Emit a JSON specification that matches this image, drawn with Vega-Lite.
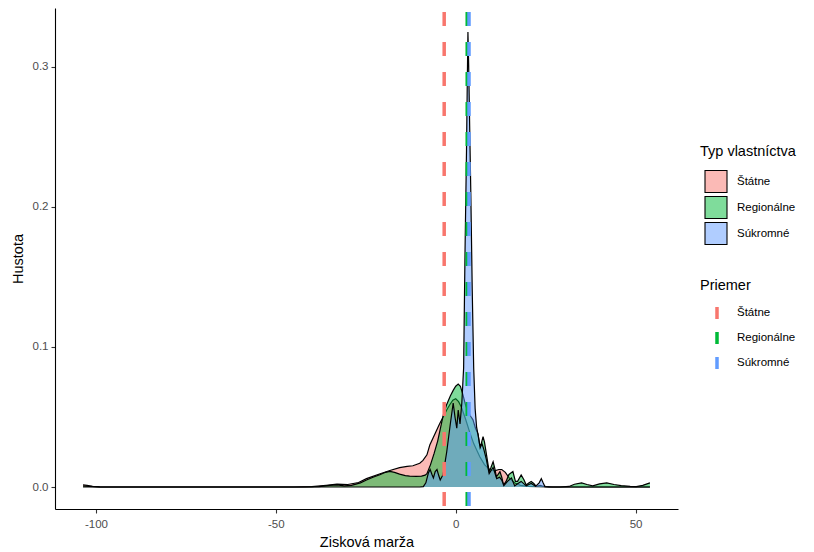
{
  "$schema": "https://vega.github.io/schema/vega-lite/v6.json",
  "width": 623,
  "height": 501,
  "autosize": {"type": "none"},
  "padding": {"left": 55, "top": 8, "right": 136, "bottom": 43},
  "background": "white",
  "config": {
    "view": {"stroke": null},
    "font": "Liberation Sans",
    "axis": {
      "grid": false,
      "domainColor": "black",
      "domainWidth": 1.1,
      "tickColor": "#333333",
      "tickWidth": 1.1,
      "tickSize": 4,
      "labelColor": "#4D4D4D",
      "labelFont": "Liberation Sans",
      "labelFontSize": 11.5,
      "labelPadding": 3,
      "titleFont": "Liberation Sans",
      "titleFontSize": 14.5,
      "titleFontWeight": "normal",
      "titleColor": "black"
    },
    "legend": {
      "labelFont": "Liberation Sans",
      "labelFontSize": 11.5,
      "labelColor": "black",
      "titleFont": "Liberation Sans",
      "titleFontSize": 14.5,
      "titleFontWeight": "normal",
      "titleColor": "black",
      "padding": 0
    }
  },
  "datasets": {
    "dens": [
      {"typ": "Štátne", "x": -103.6, "y": 0.0016},
      {"typ": "Štátne", "x": -102.5, "y": 0.0012},
      {"typ": "Štátne", "x": -101, "y": 0.0005},
      {"typ": "Štátne", "x": -99, "y": 0.0001},
      {"typ": "Štátne", "x": -95, "y": 0},
      {"typ": "Štátne", "x": -45, "y": 0},
      {"typ": "Štátne", "x": -40, "y": 0.0003},
      {"typ": "Štátne", "x": -36, "y": 0.0012},
      {"typ": "Štátne", "x": -33, "y": 0.002},
      {"typ": "Štátne", "x": -30, "y": 0.0018},
      {"typ": "Štátne", "x": -27, "y": 0.0032},
      {"typ": "Štátne", "x": -24.8, "y": 0.006},
      {"typ": "Štátne", "x": -21, "y": 0.0095},
      {"typ": "Štátne", "x": -18.3, "y": 0.0118},
      {"typ": "Štátne", "x": -15.6, "y": 0.0138},
      {"typ": "Štátne", "x": -13.5, "y": 0.0147},
      {"typ": "Štátne", "x": -11.9, "y": 0.0152},
      {"typ": "Štátne", "x": -10, "y": 0.017},
      {"typ": "Štátne", "x": -9.1, "y": 0.019},
      {"typ": "Štátne", "x": -8, "y": 0.023},
      {"typ": "Štátne", "x": -7.2, "y": 0.03},
      {"typ": "Štátne", "x": -6.3, "y": 0.035},
      {"typ": "Štátne", "x": -5.4, "y": 0.04},
      {"typ": "Štátne", "x": -4.5, "y": 0.045},
      {"typ": "Štátne", "x": -3.5, "y": 0.05},
      {"typ": "Štátne", "x": -2.5, "y": 0.055},
      {"typ": "Štátne", "x": -1.7, "y": 0.0586},
      {"typ": "Štátne", "x": -0.8, "y": 0.062},
      {"typ": "Štátne", "x": 0, "y": 0.063},
      {"typ": "Štátne", "x": 0.8, "y": 0.061},
      {"typ": "Štátne", "x": 1.6, "y": 0.057},
      {"typ": "Štátne", "x": 2.8, "y": 0.048},
      {"typ": "Štátne", "x": 3.9, "y": 0.039},
      {"typ": "Štátne", "x": 5, "y": 0.031},
      {"typ": "Štátne", "x": 6.7, "y": 0.0216},
      {"typ": "Štátne", "x": 8, "y": 0.016},
      {"typ": "Štátne", "x": 9.4, "y": 0.0125},
      {"typ": "Štátne", "x": 10.8, "y": 0.0115},
      {"typ": "Štátne", "x": 12, "y": 0.0125},
      {"typ": "Štátne", "x": 12.8, "y": 0.0125},
      {"typ": "Štátne", "x": 13.8, "y": 0.0105},
      {"typ": "Štátne", "x": 15, "y": 0.006},
      {"typ": "Štátne", "x": 16.5, "y": 0.0028},
      {"typ": "Štátne", "x": 18, "y": 0.0012},
      {"typ": "Štátne", "x": 20, "y": 0.0005},
      {"typ": "Štátne", "x": 23, "y": 0.0002},
      {"typ": "Štátne", "x": 26, "y": 0},
      {"typ": "Štátne", "x": 54, "y": 0},
      {"typ": "Regionálne", "x": -103.6, "y": 0.0008},
      {"typ": "Regionálne", "x": -102, "y": 0.0005},
      {"typ": "Regionálne", "x": -99, "y": 0.0001},
      {"typ": "Regionálne", "x": -95, "y": 0},
      {"typ": "Regionálne", "x": -42, "y": 0},
      {"typ": "Regionálne", "x": -38, "y": 0.0003},
      {"typ": "Regionálne", "x": -35, "y": 0.0012},
      {"typ": "Regionálne", "x": -33, "y": 0.0015},
      {"typ": "Regionálne", "x": -31, "y": 0.0008},
      {"typ": "Regionálne", "x": -29, "y": 0.0012},
      {"typ": "Regionálne", "x": -26.5, "y": 0.003},
      {"typ": "Regionálne", "x": -24.8, "y": 0.005},
      {"typ": "Regionálne", "x": -23, "y": 0.007},
      {"typ": "Regionálne", "x": -21.1, "y": 0.0088},
      {"typ": "Regionálne", "x": -19.5, "y": 0.0105},
      {"typ": "Regionálne", "x": -18.3, "y": 0.0112},
      {"typ": "Regionálne", "x": -17, "y": 0.0105},
      {"typ": "Regionálne", "x": -15.6, "y": 0.0092},
      {"typ": "Regionálne", "x": -14, "y": 0.0082},
      {"typ": "Regionálne", "x": -12.8, "y": 0.0078},
      {"typ": "Regionálne", "x": -11, "y": 0.0076},
      {"typ": "Regionálne", "x": -9.5, "y": 0.0078},
      {"typ": "Regionálne", "x": -8.5, "y": 0.0085},
      {"typ": "Regionálne", "x": -8, "y": 0.0095},
      {"typ": "Regionálne", "x": -7, "y": 0.016},
      {"typ": "Regionálne", "x": -6, "y": 0.024},
      {"typ": "Regionálne", "x": -5, "y": 0.033},
      {"typ": "Regionálne", "x": -4, "y": 0.045},
      {"typ": "Regionálne", "x": -3.5, "y": 0.051},
      {"typ": "Regionálne", "x": -2.5, "y": 0.059},
      {"typ": "Regionálne", "x": -1.5, "y": 0.065},
      {"typ": "Regionálne", "x": -0.7, "y": 0.069},
      {"typ": "Regionálne", "x": 0, "y": 0.072},
      {"typ": "Regionálne", "x": 0.7, "y": 0.0735},
      {"typ": "Regionálne", "x": 1.3, "y": 0.072},
      {"typ": "Regionálne", "x": 2, "y": 0.066},
      {"typ": "Regionálne", "x": 2.8, "y": 0.058},
      {"typ": "Regionálne", "x": 3.6, "y": 0.053},
      {"typ": "Regionálne", "x": 4.3, "y": 0.05},
      {"typ": "Regionálne", "x": 4.8, "y": 0.048},
      {"typ": "Regionálne", "x": 5.5, "y": 0.042},
      {"typ": "Regionálne", "x": 6.2, "y": 0.038},
      {"typ": "Regionálne", "x": 6.6, "y": 0.031},
      {"typ": "Regionálne", "x": 6.9, "y": 0.029},
      {"typ": "Regionálne", "x": 7.3, "y": 0.033},
      {"typ": "Regionálne", "x": 7.6, "y": 0.036},
      {"typ": "Regionálne", "x": 8, "y": 0.032},
      {"typ": "Regionálne", "x": 8.5, "y": 0.024},
      {"typ": "Regionálne", "x": 9.3, "y": 0.011},
      {"typ": "Regionálne", "x": 9.8, "y": 0.014},
      {"typ": "Regionálne", "x": 10.4, "y": 0.018},
      {"typ": "Regionálne", "x": 10.9, "y": 0.013},
      {"typ": "Regionálne", "x": 11.3, "y": 0.0074},
      {"typ": "Regionálne", "x": 11.8, "y": 0.009},
      {"typ": "Regionálne", "x": 12.3, "y": 0.011},
      {"typ": "Regionálne", "x": 12.8, "y": 0.007},
      {"typ": "Regionálne", "x": 13.3, "y": 0.0014},
      {"typ": "Regionálne", "x": 14, "y": 0.004},
      {"typ": "Regionálne", "x": 14.8, "y": 0.009},
      {"typ": "Regionálne", "x": 15.9, "y": 0.011},
      {"typ": "Regionálne", "x": 16.6, "y": 0.004},
      {"typ": "Regionálne", "x": 17.2, "y": 0.004},
      {"typ": "Regionálne", "x": 18.2, "y": 0.0086},
      {"typ": "Regionálne", "x": 19, "y": 0.005},
      {"typ": "Regionálne", "x": 19.6, "y": 0.0014},
      {"typ": "Regionálne", "x": 20.3, "y": 0.0028},
      {"typ": "Regionálne", "x": 21, "y": 0.004},
      {"typ": "Regionálne", "x": 21.7, "y": 0.0025},
      {"typ": "Regionálne", "x": 22.4, "y": 0.0005},
      {"typ": "Regionálne", "x": 23.5, "y": 0.0012},
      {"typ": "Regionálne", "x": 24.5, "y": 0.0004},
      {"typ": "Regionálne", "x": 26, "y": 0.0001},
      {"typ": "Regionálne", "x": 29, "y": 0},
      {"typ": "Regionálne", "x": 31.5, "y": 0.0004},
      {"typ": "Regionálne", "x": 33, "y": 0.002},
      {"typ": "Regionálne", "x": 35, "y": 0.003},
      {"typ": "Regionálne", "x": 36.5, "y": 0.0018},
      {"typ": "Regionálne", "x": 38.1, "y": 0.0008},
      {"typ": "Regionálne", "x": 40, "y": 0.0022},
      {"typ": "Regionálne", "x": 42, "y": 0.003},
      {"typ": "Regionálne", "x": 44, "y": 0.0018},
      {"typ": "Regionálne", "x": 46, "y": 0.001},
      {"typ": "Regionálne", "x": 48.5, "y": 0.0004},
      {"typ": "Regionálne", "x": 50.2, "y": 0.0003},
      {"typ": "Regionálne", "x": 52, "y": 0.0012},
      {"typ": "Regionálne", "x": 54, "y": 0.003},
      {"typ": "Súkromné", "x": -103.6, "y": 0},
      {"typ": "Súkromné", "x": -10, "y": 0},
      {"typ": "Súkromné", "x": -9, "y": 0.0003},
      {"typ": "Súkromné", "x": -8.3, "y": 0.003},
      {"typ": "Súkromné", "x": -7.6, "y": 0.01},
      {"typ": "Súkromné", "x": -7.1, "y": 0.0125},
      {"typ": "Súkromné", "x": -6.6, "y": 0.009},
      {"typ": "Súkromné", "x": -6.2, "y": 0.0065},
      {"typ": "Súkromné", "x": -5.7, "y": 0.011},
      {"typ": "Súkromné", "x": -5.2, "y": 0.0125},
      {"typ": "Súkromné", "x": -4.7, "y": 0.008},
      {"typ": "Súkromné", "x": -4.3, "y": 0.005},
      {"typ": "Súkromné", "x": -3.5, "y": 0.009},
      {"typ": "Súkromné", "x": -2.5, "y": 0.025},
      {"typ": "Súkromné", "x": -1.5, "y": 0.045},
      {"typ": "Súkromné", "x": -0.7, "y": 0.06},
      {"typ": "Súkromné", "x": -0.2, "y": 0.05},
      {"typ": "Súkromné", "x": 0.3, "y": 0.042},
      {"typ": "Súkromné", "x": 0.7, "y": 0.055},
      {"typ": "Súkromné", "x": 1.2, "y": 0.045},
      {"typ": "Súkromné", "x": 1.7, "y": 0.06},
      {"typ": "Súkromné", "x": 2.2, "y": 0.085},
      {"typ": "Súkromné", "x": 2.6, "y": 0.17},
      {"typ": "Súkromné", "x": 3.0, "y": 0.24},
      {"typ": "Súkromné", "x": 3.2, "y": 0.285},
      {"typ": "Súkromné", "x": 3.4, "y": 0.325},
      {"typ": "Súkromné", "x": 3.6, "y": 0.302},
      {"typ": "Súkromné", "x": 3.9, "y": 0.255},
      {"typ": "Súkromné", "x": 4.2, "y": 0.21},
      {"typ": "Súkromné", "x": 4.6, "y": 0.14},
      {"typ": "Súkromné", "x": 5.0, "y": 0.085},
      {"typ": "Súkromné", "x": 5.4, "y": 0.056},
      {"typ": "Súkromné", "x": 5.8, "y": 0.043},
      {"typ": "Súkromné", "x": 6.3, "y": 0.036},
      {"typ": "Súkromné", "x": 6.8, "y": 0.028},
      {"typ": "Súkromné", "x": 7.3, "y": 0.031},
      {"typ": "Súkromné", "x": 7.8, "y": 0.027},
      {"typ": "Súkromné", "x": 8.5, "y": 0.02},
      {"typ": "Súkromné", "x": 9.3, "y": 0.0095},
      {"typ": "Súkromné", "x": 9.9, "y": 0.012},
      {"typ": "Súkromné", "x": 10.4, "y": 0.014},
      {"typ": "Súkromné", "x": 10.9, "y": 0.01},
      {"typ": "Súkromné", "x": 11.4, "y": 0.006},
      {"typ": "Súkromné", "x": 12.2, "y": 0.007},
      {"typ": "Súkromné", "x": 12.8, "y": 0.005},
      {"typ": "Súkromné", "x": 13.4, "y": 0.001},
      {"typ": "Súkromné", "x": 14.4, "y": 0.004},
      {"typ": "Súkromné", "x": 15.5, "y": 0.0065},
      {"typ": "Súkromné", "x": 16.4, "y": 0.0008},
      {"typ": "Súkromné", "x": 17.3, "y": 0.0025},
      {"typ": "Súkromné", "x": 18.2, "y": 0.004},
      {"typ": "Súkromné", "x": 19.6, "y": 0.0008},
      {"typ": "Súkromné", "x": 20.5, "y": 0.002},
      {"typ": "Súkromné", "x": 21, "y": 0.0025},
      {"typ": "Súkromné", "x": 22.2, "y": 0.0005},
      {"typ": "Súkromné", "x": 23.2, "y": 0.003},
      {"typ": "Súkromné", "x": 23.8, "y": 0.006},
      {"typ": "Súkromné", "x": 24.3, "y": 0.003},
      {"typ": "Súkromné", "x": 24.8, "y": 0.0003},
      {"typ": "Súkromné", "x": 27, "y": 0},
      {"typ": "Súkromné", "x": 54, "y": 0}
    ],
    "means": [
      {"priemer": "Štátne", "poradie": 1, "x": -3.2},
      {"priemer": "Regionálne", "poradie": 2, "x": 3.2},
      {"priemer": "Súkromné", "poradie": 3, "x": 3.7}
    ]
  },
  "layer": [
    {
      "data": {"name": "dens"},
      "transform": [{"filter": "datum.typ == 'Štátne'"}],
      "mark": {"type": "area", "fillOpacity": 0.5},
      "encoding": {
        "x": {"field": "x", "type": "quantitative", "scale": {"domain": [-111.4, 61.8], "nice": false, "zero": false},
              "axis": {"title": "Zisková marža", "values": [-100, -50, 0, 50], "labelPadding": 5, "titlePadding": 6, "labelExpr": "replace(datum.label, '\u2212', '-')"}},
        "y": {"field": "y", "type": "quantitative", "stack": null, "scale": {"domain": [-0.0157, 0.3421], "nice": false, "zero": false},
              "axis": {"title": "Hustota", "values": [0, 0.1, 0.2, 0.3], "format": ".1f", "titlePadding": 7}},
        "fill": {"field": "typ", "type": "nominal",
                 "scale": {"domain": ["Štátne", "Regionálne", "Súkromné"], "range": ["#F8766D", "#00BA38", "#619CFF"]},
                 "legend": {"title": "Typ vlastníctva", "orient": "none", "legendX": 645, "legendY": 137,
                            "symbolType": "square", "symbolSize": 484, "symbolOffset": 4, "labelOffset": 9,
                            "symbolStrokeColor": "black", "symbolStrokeWidth": 1.1,
                            "titlePadding": 10, "rowPadding": -2.8,
                            "encode": {"symbols": {"update": {"fillOpacity": {"value": 0.5}, "stroke": {"value": "black"}, "strokeWidth": {"value": 1.1}}}}}}
      }
    },
    {
      "data": {"name": "dens"},
      "transform": [{"filter": "datum.typ == 'Štátne'"}],
      "mark": {"type": "line", "color": "black", "strokeWidth": 1.2},
      "encoding": {
        "x": {"field": "x", "type": "quantitative"},
        "y": {"field": "y", "type": "quantitative"}
      }
    },
    {
      "data": {"name": "dens"},
      "transform": [{"filter": "datum.typ == 'Regionálne'"}],
      "mark": {"type": "area", "fillOpacity": 0.5},
      "encoding": {
        "x": {"field": "x", "type": "quantitative"},
        "y": {"field": "y", "type": "quantitative", "stack": null},
        "fill": {"field": "typ", "type": "nominal"}
      }
    },
    {
      "data": {"name": "dens"},
      "transform": [{"filter": "datum.typ == 'Regionálne'"}],
      "mark": {"type": "line", "color": "black", "strokeWidth": 1.2},
      "encoding": {
        "x": {"field": "x", "type": "quantitative"},
        "y": {"field": "y", "type": "quantitative"}
      }
    },
    {
      "data": {"name": "dens"},
      "transform": [{"filter": "datum.typ == 'Súkromné'"}],
      "mark": {"type": "area", "fillOpacity": 0.5},
      "encoding": {
        "x": {"field": "x", "type": "quantitative"},
        "y": {"field": "y", "type": "quantitative", "stack": null},
        "fill": {"field": "typ", "type": "nominal"}
      }
    },
    {
      "data": {"name": "dens"},
      "transform": [{"filter": "datum.typ == 'Súkromné'"}],
      "mark": {"type": "line", "color": "black", "strokeWidth": 1.2},
      "encoding": {
        "x": {"field": "x", "type": "quantitative"},
        "y": {"field": "y", "type": "quantitative"}
      }
    },
    {
      "data": {"name": "means"},
      "mark": {"type": "rule", "strokeDash": [14, 16], "strokeDashOffset": 26, "strokeWidth": 3.5, "strokeCap": "butt"},
      "encoding": {
        "x": {"field": "x", "type": "quantitative"},
        "stroke": {"field": "priemer", "type": "nominal", "sort": {"field": "poradie", "op": "min"},
                   "scale": {"range": ["#F8766D", "#00BA38", "#619CFF"]},
                   "legend": {"title": "Priemer", "orient": "none", "legendX": 645, "legendY": 271,
                              "symbolType": "M0,-0.6L0,0.6", "symbolSize": 400, "symbolStrokeWidth": 3.5,
                              "symbolFillColor": "transparent",
                              "symbolOffset": 5, "labelOffset": 8, "titlePadding": 7.5, "rowPadding": -3.3,
                              "encode": {"symbols": {"update": {"strokeDash": {"value": [1, 0]}, "fill": {"value": "transparent"}}}}}}
      }
    }
  ]
}
